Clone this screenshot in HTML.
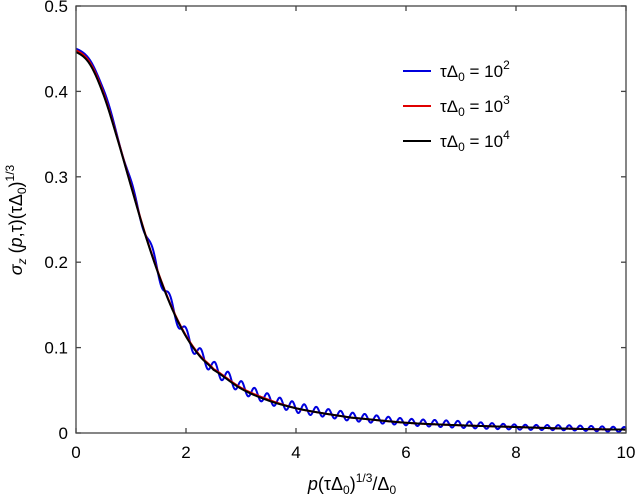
<!DOCTYPE html>
<html><head><meta charset="utf-8"><style>
body{margin:0;background:#fff}
svg{display:block;font-family:"Liberation Sans",sans-serif}
</style></head><body>
<svg id="chart" width="642" height="496" viewBox="0 0 642 496" xmlns="http://www.w3.org/2000/svg">
<g id="plot"></g>
<g id="axes"></g>
<text x="352" y="490" font-size="18" text-anchor="middle"><tspan font-style="italic">p</tspan>(τΔ<tspan font-size="12" dy="4">0</tspan><tspan dy="-4">)</tspan><tspan font-size="12" dy="-8">1/3</tspan><tspan dy="8">/Δ</tspan><tspan font-size="12" dy="4">0</tspan></text>
<text transform="translate(22,220) rotate(-90)" font-size="18" text-anchor="middle"><tspan font-style="italic">σ</tspan><tspan font-size="12" dy="4" font-style="italic">z</tspan><tspan dy="-4"> (</tspan><tspan font-style="italic">p</tspan>,τ)(τΔ<tspan font-size="12" dy="4">0</tspan><tspan dy="-4">)</tspan><tspan font-size="12" dy="-8">1/3</tspan></text>
<g font-size="17">
 <g><line x1="403" y1="71" x2="431" y2="71" stroke="#0000dd" stroke-width="2"/><text x="440" y="77">τΔ<tspan font-size="12" dy="4">0</tspan><tspan dy="-4"> = 10</tspan><tspan font-size="12" dy="-8">2</tspan></text></g>
 <g><line x1="403" y1="106" x2="431" y2="106" stroke="#e00000" stroke-width="2"/><text x="440" y="112">τΔ<tspan font-size="12" dy="4">0</tspan><tspan dy="-4"> = 10</tspan><tspan font-size="12" dy="-8">3</tspan></text></g>
 <g><line x1="403" y1="141" x2="431" y2="141" stroke="#000" stroke-width="2"/><text x="440" y="147">τΔ<tspan font-size="12" dy="4">0</tspan><tspan dy="-4"> = 10</tspan><tspan font-size="12" dy="-8">4</tspan></text></g>
</g>
</svg>
<script>
const xKnots = [0,0.25,0.5,0.75,1,1.25,1.5,1.75,2,2.25,2.5,3,3.5,4,4.5,5,6,7,8,9,10];
const blackVals = [0.446,0.432,0.396,0.345,0.289,0.234,0.186,0.145,0.113,0.090,0.074,0.052,0.038,0.029,0.023,0.018,0.012,0.009,0.007,0.005,0.004];
const redVals   = [0.448,0.434,0.398,0.346,0.290,0.235,0.187,0.146,0.114,0.091,0.075,0.053,0.039,0.029,0.023,0.018,0.012,0.009,0.007,0.005,0.004];
const blueVals  = [0.450,0.437,0.402,0.349,0.292,0.238,0.189,0.147,0.115,0.092,0.076,0.054,0.040,0.030,0.024,0.019,0.013,0.010,0.007,0.006,0.004];
const blueAmp   = [0,0,0.001,0.002,0.004,0.006,0.008,0.008,0.008,0.008,0.008,0.007,0.006,0.006,0.005,0.005,0.004,0.004,0.003,0.003,0.003];
const bluePeriod = [0.5,0.5,0.45,0.42,0.4,0.36,0.33,0.3,0.28,0.26,0.25,0.24,0.23,0.22,0.22,0.22,0.21,0.21,0.2,0.2,0.2];
const xTicks = [0,2,4,6,8,10];
const yTicks = [0,0.1,0.2,0.3,0.4,0.5];
const yTickLabels = ["0","0.1","0.2","0.3","0.4","0.5"];

const L=76,R=626,T=6,B=433;
const sx=v=>L+(v-0)/(10-0)*(R-L);
const sy=v=>B-(v-0)/(0.5-0)*(B-T);
const NS="http://www.w3.org/2000/svg";
function interp(arr,x){
  let i=0; while(i<xKnots.length-2 && x>xKnots[i+1]) i++;
  const x0=xKnots[i],x1=xKnots[i+1],t=(x-x0)/(x1-x0);
  const p0=arr[Math.max(i-1,0)],p1=arr[i],p2=arr[i+1],p3=arr[Math.min(i+2,arr.length-1)];
  const t2=t*t,t3=t2*t;
  return 0.5*((2*p1)+(-p0+p2)*t+(2*p0-5*p1+4*p2-p3)*t2+(-p0+3*p1-3*p2+p3)*t3);
}
const plot=document.getElementById('plot');
function addSeries(vals,color,name,osc){
  let d="",phase=0,prev=0;
  const N=2000;
  for(let k=0;k<=N;k++){
    const x=10*k/N;
    let y=interp(vals,x);
    if(osc){ phase+=2*Math.PI*(x-prev)/interp(bluePeriod,x); prev=x; y+=interp(blueAmp,x)*Math.sin(phase); }
    d+=(k?"L":"M")+sx(x).toFixed(2)+","+sy(y).toFixed(2);
  }
  const p=document.createElementNS(NS,'path');
  p.setAttribute('d',d);p.setAttribute('fill','none');p.setAttribute('stroke',color);p.setAttribute('stroke-width','2');
  
  
  plot.appendChild(p);
}
addSeries(blueVals,'#0000dd','series-tau-1e2',true);
addSeries(redVals,'#e00000','series-tau-1e3',false);
addSeries(blackVals,'#000','series-tau-1e4',false);

const axes=document.getElementById('axes');
const box=document.createElementNS(NS,'rect');
box.setAttribute('x',L);box.setAttribute('y',T);box.setAttribute('width',R-L);box.setAttribute('height',B-T);
box.setAttribute('fill','none');box.setAttribute('stroke','#444');box.setAttribute('stroke-width','1.3');


axes.appendChild(box);
function ln(x1,y1,x2,y2,name){const l=document.createElementNS(NS,'line');l.setAttribute('x1',x1);l.setAttribute('y1',y1);l.setAttribute('x2',x2);l.setAttribute('y2',y2);l.setAttribute('stroke','#444');l.setAttribute('stroke-width','1.3');


axes.appendChild(l);}
function tx(x,y,s,anchor,name){const t=document.createElementNS(NS,'text');t.setAttribute('x',x);t.setAttribute('y',y);t.setAttribute('font-size','17');t.setAttribute('text-anchor',anchor);t.textContent=s;


axes.appendChild(t);}
xTicks.forEach(v=>{const x=sx(v);ln(x,B,x,B-5,'x-tick');ln(x,T,x,T+5,'x-tick-top');tx(x,B+25,String(v),'middle','x-tick-label');});
yTicks.forEach((v,i)=>{const y=sy(v);ln(L,y,L+5,y,'y-tick');ln(R,y,R-5,y,'y-tick-right');tx(L-8,y+6,yTickLabels[i],'end','y-tick-label');});
</script>
</body></html>
